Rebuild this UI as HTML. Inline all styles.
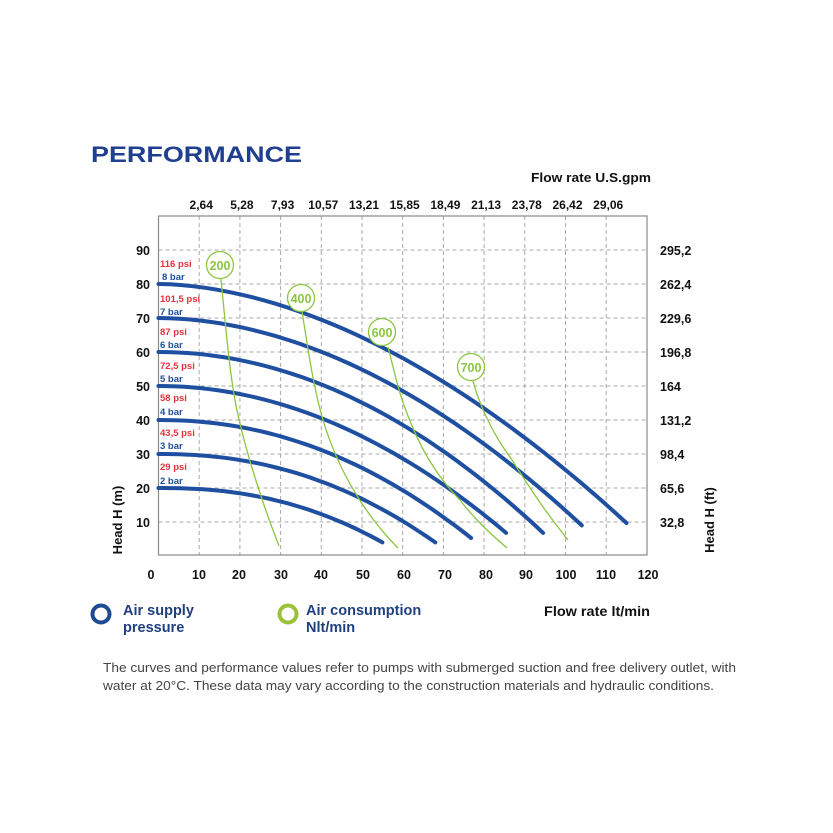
<!DOCTYPE html>
<html><head><meta charset="utf-8"><style>
html,body{margin:0;padding:0;background:#fff;}
svg{display:block;font-family:"Liberation Sans",Arial,sans-serif;}
.b{font-weight:bold;}
</style></head><body>
<svg id="s" width="833" height="833" viewBox="0 0 833 833">
<rect width="833" height="833" fill="#fff"/>
<text x="91" y="162" font-size="22" class="b" fill="#1f3f8f" textLength="211" lengthAdjust="spacingAndGlyphs">PERFORMANCE</text>
<text x="531" y="182" font-size="13" class="b" fill="#111" textLength="120" lengthAdjust="spacingAndGlyphs">Flow rate U.S.gpm</text>
<g id="grid" stroke="#aaa" stroke-width="1" stroke-dasharray="4,3"></g>
<rect x="158.5" y="216" width="488.5" height="339" fill="none" stroke="#888" stroke-width="1.2"/>
<g id="tops" font-size="12" class="b" fill="#111" text-anchor="middle"></g>
<g id="labs" font-size="12.5" class="b" fill="#111"></g>
<g id="curves" fill="none" stroke="#1f4fa0" stroke-width="4" stroke-linecap="round"></g>
<g fill="none" stroke="#8cc63f" stroke-width="1.3">
<path d="M221,279 C226,330 230,380 238,415 C248,460 265,510 279,546"/>
<path d="M302,311 C308,350 314,390 323,420 C338,470 365,515 398,548"/>
<path d="M388,347 C394,370 398,390 405,408 C420,450 440,480 460,500 C475,520 492,535 507,548"/>
<path d="M473,381 C478,400 490,430 510,457 C525,480 540,505 568,540"/>
</g>
<g fill="#fff" stroke="#8cc63f" stroke-width="1.3">
<circle cx="220" cy="265" r="13.5"/><circle cx="301" cy="298" r="13.5"/>
<circle cx="382" cy="332" r="13.5"/><circle cx="471" cy="367" r="13.5"/>
</g>
<g font-size="12.5" class="b" fill="#8cc63f" text-anchor="middle">
<text x="220" y="270">200</text><text x="301" y="303">400</text><text x="382" y="337">600</text><text x="471" y="372">700</text>
</g>
<g font-size="9.5" class="b">
<text x="160" y="267" fill="#e8303a">116 psi</text><text x="162" y="280" fill="#1f4fa0">8 bar</text>
<text x="160" y="302" fill="#e8303a">101,5 psi</text><text x="160" y="315" fill="#1f4fa0">7 bar</text>
<text x="160" y="335" fill="#e8303a">87 psi</text><text x="160" y="348" fill="#1f4fa0">6 bar</text>
<text x="160" y="369" fill="#e8303a">72,5 psi</text><text x="160" y="382" fill="#1f4fa0">5 bar</text>
<text x="160" y="401" fill="#e8303a">58 psi</text><text x="160" y="415" fill="#1f4fa0">4 bar</text>
<text x="160" y="436" fill="#e8303a">43,5 psi</text><text x="160" y="449" fill="#1f4fa0">3 bar</text>
<text x="160" y="470" fill="#e8303a">29 psi</text><text x="160" y="484" fill="#1f4fa0">2 bar</text>
</g>
<text transform="translate(122,520) rotate(-90)" font-size="13" class="b" fill="#111" text-anchor="middle">Head H (m)</text>
<text transform="translate(714,520) rotate(-90)" font-size="13" class="b" fill="#111" text-anchor="middle">Head H (ft)</text>
<circle cx="101" cy="614" r="8.5" fill="none" stroke="#1f4a94" stroke-width="4"/>
<circle cx="288" cy="614" r="8.5" fill="none" stroke="#9cc23a" stroke-width="4"/>
<g font-size="14.5" class="b" fill="#1f3f7f">
<text x="123" y="615">Air supply</text><text x="123" y="632">pressure</text>
<text x="306" y="615">Air consumption</text><text x="306" y="632">Nlt/min</text>
</g>
<text x="544" y="616" font-size="14" class="b" fill="#111" textLength="106" lengthAdjust="spacingAndGlyphs">Flow rate  lt/min</text>
<g font-size="13" fill="#444">
<text x="103" y="672" textLength="633" lengthAdjust="spacingAndGlyphs">The curves and performance values refer to pumps with submerged suction and free delivery outlet, with</text>
<text x="103" y="690" textLength="611" lengthAdjust="spacingAndGlyphs">water at 20°C. These data may vary according to the construction materials and hydraulic conditions.</text>
</g>
</svg>
<script>
var NS="http://www.w3.org/2000/svg";
function X(q){return 158.5+q*4.07;}function Y(h){return 556-h*3.4;}
function el(p,t,a,txt){var e=document.createElementNS(NS,t);for(var k in a)e.setAttribute(k,a[k]);if(txt!==undefined)e.textContent=txt;document.getElementById(p).appendChild(e);}
for(var i=1;i<12;i++){var x=X(i*10);el("grid","line",{x1:x,y1:216,x2:x,y2:555});}
for(var j=1;j<10;j++){var y=Y(j*10);el("grid","line",{x1:158.5,y1:y,x2:647,y2:y});}
var tops=["2,64","5,28","7,93","10,57","13,21","15,85","18,49","21,13","23,78","26,42","29,06"];
for(var i=0;i<11;i++)el("tops","text",{x:X((i+1)*10)+2,y:209},tops[i]);
for(var j=1;j<10;j++)el("labs","text",{x:150,y:Y(j*10)+5,"text-anchor":"end"},String(j*10));
var ft=["32,8","65,6","98,4","131,2","164","196,8","229,6","262,4","295,2"];
for(var j=1;j<10;j++)el("labs","text",{x:660,y:Y(j*10)+5},ft[j-1]);
var xl=[151,199,239,281,321,363,404,445,486,526,566,606,648];
for(var i=0;i<13;i++)el("labs","text",{x:xl[i],y:579,"text-anchor":"middle"},String(i*10));
var C=[[80,115,9.7,1.8],[70,104,9,1.9],[60,94.5,6.8,2],[50,85.4,6.8,2],[40,76.8,5.3,2.1],[30,68,4,2.2],[20,55,4,2.3]];
C.forEach(function(c){var d="";var n=40;for(var k=0;k<=n;k++){var q=c[1]*k/n;var h=c[0]-(c[0]-c[2])*Math.pow(q/c[1],c[3]);d+=(k?"L":"M")+X(q).toFixed(1)+","+Y(h).toFixed(1);}el("curves","path",{d:d});});
</script>
</body></html>
